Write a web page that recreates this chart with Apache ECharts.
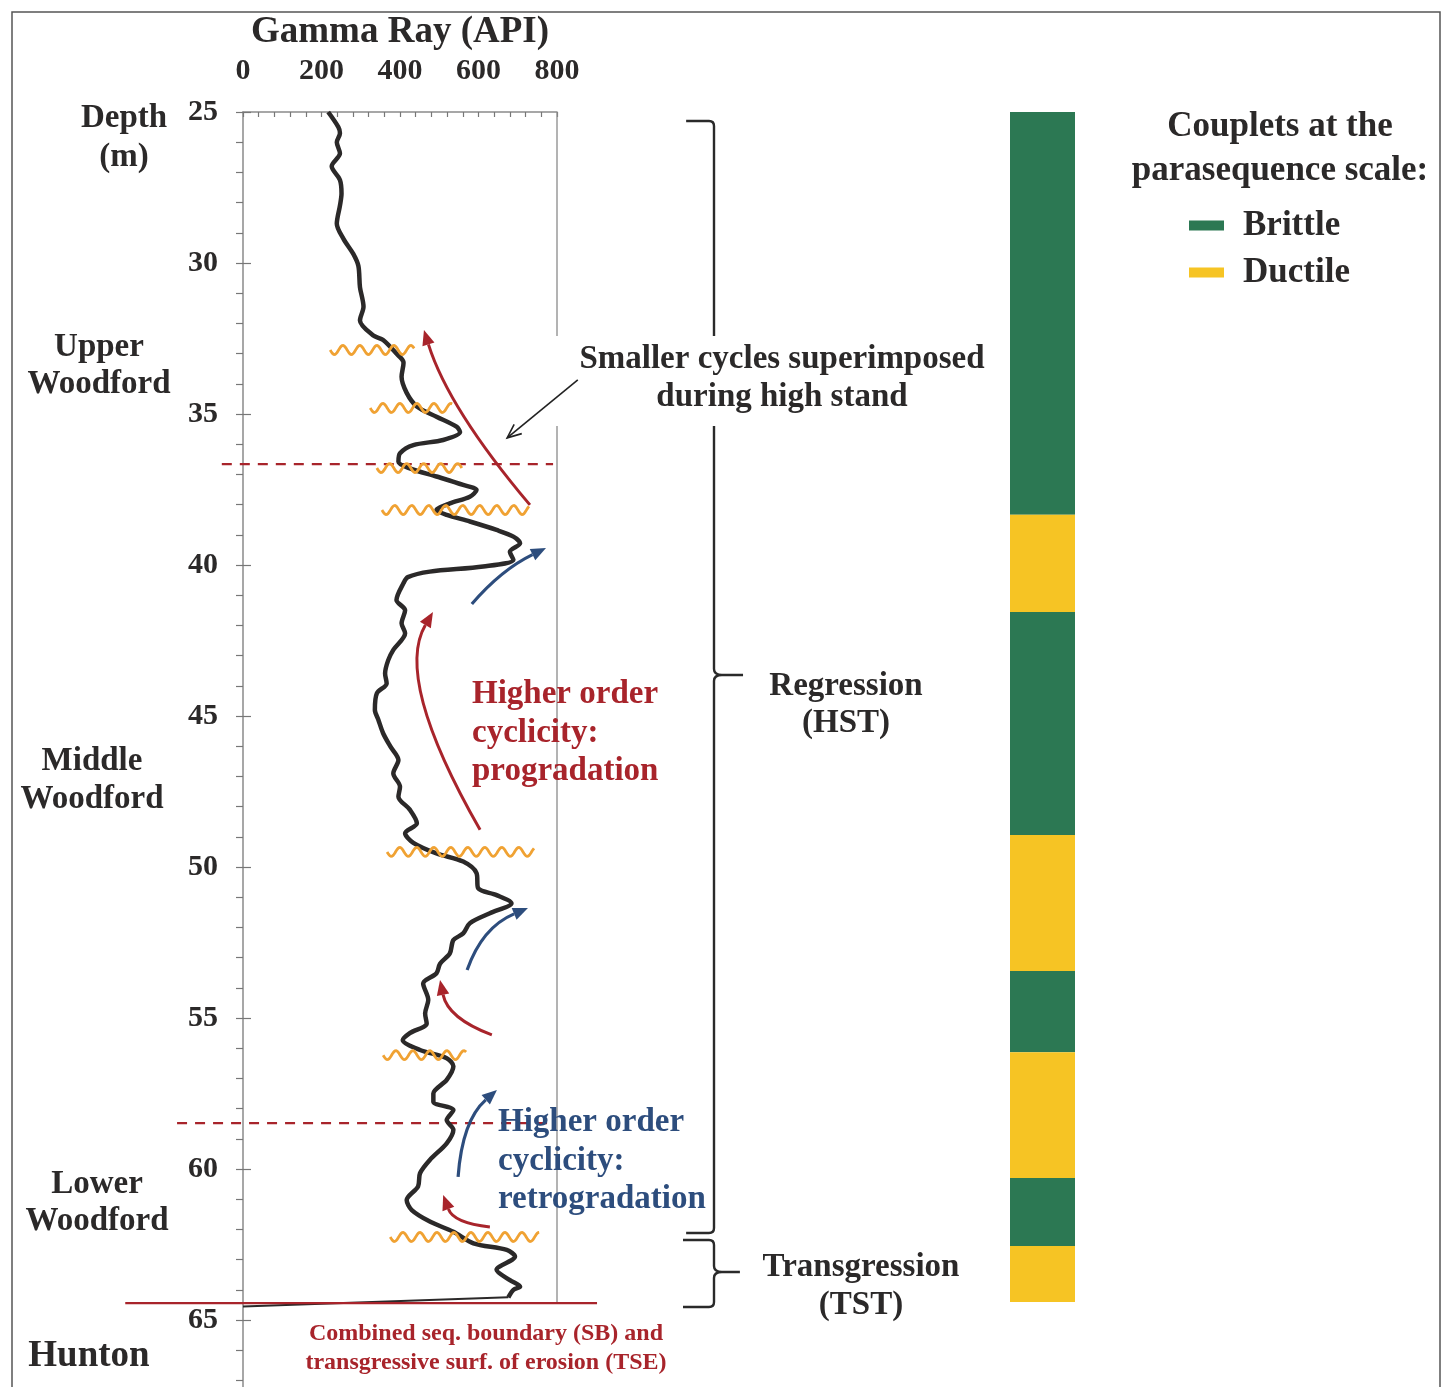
<!DOCTYPE html>
<html>
<head>
<meta charset="utf-8">
<title>Woodford gamma ray log</title>
<script src="https://cdn.jsdelivr.net/npm/echarts@6/dist/echarts.min.js"></script>
<style>
  html, body { margin: 0; padding: 0; background: #fff; }
  #chart { width: 1442px; height: 1387px; }
</style>
</head>
<body>
<div id="chart"></div>
<script>
// ---- Gamma ray log (depth in m, GR in API units) ----
const depthM = [25.0,25.5,25.7,26.0,26.37,26.8,27.25,27.7,28.1,28.7,29.2,29.7,30.1,30.8,31.45,31.9,32.4,32.55,33.0,33.3,33.77,34.3,34.75,35.09,35.42,35.6,35.86,36.03,36.3,36.58,36.8,37.07,37.35,37.52,37.74,37.96,38.18,38.34,38.56,38.84,39.06,39.28,39.56,39.83,40.05,40.22,40.4,40.6,41.16,41.5,41.93,42.26,42.81,43.15,43.59,43.92,44.25,44.8,45.13,45.57,46.0,46.46,46.9,47.34,47.67,48.1,48.55,48.88,49.2,49.55,49.82,50.2,50.7,50.93,51.2,51.53,51.86,52.2,52.42,52.86,53.2,53.52,53.86,54.4,54.85,55.18,55.5,55.73,56.06,56.33,56.6,57.05,57.5,57.77,58.05,58.38,58.7,59.15,59.7,60.14,60.58,61.03,61.36,61.74,62.08,62.46,62.68,62.9,63.34,63.68,63.9,64.0,64.25,64.55];
const gammaApi = [217,243,247,239,247,226,247,251,247,239,256,281,294,298,307,298,332,357,391,409,404,417,443,493,544,553,510,434,400,396,425,493,561,595,578,527,493,519,578,646,689,706,680,689,612,476,420,409,391,413,404,413,383,370,362,366,341,336,345,357,375,396,383,400,396,425,443,413,434,493,561,595,599,646,684,629,578,561,536,527,502,493,459,472,464,468,425,407,451,519,536,519,485,485,536,519,536,519,476,451,446,417,430,476,536,587,672,693,646,680,706,689,676,0];

// ---- Parasequence couplets (top depth, base depth) ----
const brittleIntervals = [[25.0,38.34],[41.56,48.94],[53.44,56.13],[60.3,62.55]];
const ductileIntervals = [[38.34,41.56],[48.94,53.44],[56.13,60.3],[62.55,64.4]];

// ---- Interpretation overlays, in (API, depth) ----
const flooding = [[-54,36.66,790,36.66],[-168,58.48,790,58.48]];   // dashed member tops
const sbTse = [[-300,64.44,902,64.44]];                               // combined SB / TSE
const logEdge = [[800,25,800,64.44]];
const unconformities = [[222,32.88,438],[324,34.8,535],[341,36.79,560],[354,38.18,731],[367,49.5,744],[357,56.23,571],[375,62.25,757]];
// tail, midpoint, head
const progradationArrows = [[731,38.01,560,34.97,461,32.22],[604,48.77,464,44.47,484,41.56],[634,55.56,545,54.83,502,53.74],[629,61.92,553,61.59,510,60.86]];
const retrogradationArrows = [[583,41.29,668,40.26,772,39.44],[571,53.41,629,52.19,726,51.36],[548,60.26,578,58.61,647,57.38]];
const pointer = [[853,33.87,673,35.79]];
// stem, end, tip, top, tip depth, base
const braces = [[1200,1129,1274,25.3,43.64,62.12],[1200,1121,1266,62.35,63.41,64.57]];

const FONT = '"Liberation Serif", "Times New Roman", serif';
const INK = '#2b2929';
const RED = '#a8242b';
const BLUE = '#2d4d7d';
const GREEN = '#2c7853';
const YELLOW = '#f6c424';

const logLine = depthM.map((d, i) => [gammaApi[i], d]);

function segmentRenderer(style) {
  return function (params, api) {
    const a = api.coord([api.value(0), api.value(1)]);
    const b = api.coord([api.value(2), api.value(3)]);
    return { type: 'line', shape: { x1: a[0], y1: a[1], x2: b[0], y2: b[1] }, style: style, silent: true };
  };
}

function waveRenderer(params, api) {
  const a = api.coord([api.value(0), api.value(1)]);
  const b = api.coord([api.value(2), api.value(1)]);
  const pts = [];
  const wl = 17, amp = 4.5;
  for (let x = a[0]; x <= b[0]; x += 1) {
    pts.push([x, a[1] + amp * Math.sin((x - a[0]) / wl * 2 * Math.PI)]);
  }
  return { type: 'polyline', shape: { points: pts }, style: { stroke: '#f0a233', lineWidth: 2.8, fill: null }, silent: true };
}

function arrowRenderer(color, width, head) {
  return function (params, api) {
    const t = api.coord([api.value(0), api.value(1)]);
    const m = api.coord([api.value(2), api.value(3)]);
    const h = api.coord([api.value(4), api.value(5)]);
    const c = [2 * m[0] - (t[0] + h[0]) / 2, 2 * m[1] - (t[1] + h[1]) / 2];
    let dx = h[0] - c[0], dy = h[1] - c[1];
    const L = Math.hypot(dx, dy) || 1; dx /= L; dy /= L;
    const base = [h[0] - dx * head, h[1] - dy * head];
    const px = -dy, py = dx, hw = head * 0.42;
    return {
      type: 'group', silent: true,
      children: [
        { type: 'bezierCurve', shape: { x1: t[0], y1: t[1], cpx1: c[0], cpy1: c[1], x2: base[0], y2: base[1] },
          style: { stroke: color, lineWidth: width, fill: null } },
        { type: 'polygon', shape: { points: [h, [base[0] + px * hw, base[1] + py * hw], [base[0] - px * hw, base[1] - py * hw]] },
          style: { fill: color } }
      ]
    };
  };
}

function pointerRenderer(params, api) {
  const t = api.coord([api.value(0), api.value(1)]);
  const h = api.coord([api.value(2), api.value(3)]);
  let dx = h[0] - t[0], dy = h[1] - t[1];
  const L = Math.hypot(dx, dy) || 1; dx /= L; dy /= L;
  const hl = 14, hw = 6, px = -dy, py = dx;
  const b = [h[0] - dx * hl, h[1] - dy * hl];
  return {
    type: 'group', silent: true,
    children: [
      { type: 'line', shape: { x1: t[0], y1: t[1], x2: h[0], y2: h[1] }, style: { stroke: '#222', lineWidth: 1.6 } },
      { type: 'polyline', shape: { points: [[b[0] + px * hw, b[1] + py * hw], h, [b[0] - px * hw, b[1] - py * hw]] },
        style: { stroke: '#222', lineWidth: 1.6, fill: null } }
    ]
  };
}

function braceRenderer(params, api) {
  const top = api.coord([api.value(0), api.value(3)]);
  const tip = api.coord([api.value(2), api.value(4)]);
  const bot = api.coord([api.value(0), api.value(5)]);
  const endX = api.coord([api.value(1), api.value(3)])[0];
  const x = top[0], r = 5;
  const d = [
    'M', endX, top[1], 'L', x - r, top[1], 'Q', x, top[1], x, top[1] + r,
    'L', x, tip[1] - 6, 'Q', x, tip[1], x + 8, tip[1], 'L', tip[0], tip[1],
    'M', x + 8, tip[1], 'Q', x, tip[1], x, tip[1] + 6,
    'L', x, bot[1] - r, 'Q', x, bot[1], x - r, bot[1], 'L', endX, bot[1]
  ].join(' ');
  return { type: 'path', shape: { pathData: d }, style: { stroke: '#2a2a2a', lineWidth: 2.4, fill: null }, silent: true };
}

function blockRenderer(params, api) {
  const a = api.coord([api.value(0), api.value(1)]);
  const b = api.coord([api.value(2), api.value(3)]);
  return { type: 'rect', shape: { x: a[0], y: a[1], width: b[0] - a[0], height: b[1] - a[1] },
           style: { fill: api.visual('color') } };
}

const toBlocks = iv => iv.map(p => [0, p[0], 1, p[1]]);

function label(text, x, y, opts) {
  return {
    type: 'text', z: 60,
    style: Object.assign({
      text: text, x: x, y: y, align: 'center', verticalAlign: 'middle',
      font: 'bold 33px ' + FONT, fill: INK, lineHeight: 38
    }, opts || {})
  };
}

const chart = echarts.init(document.getElementById('chart'));
chart.setOption({
  backgroundColor: '#ffffff',
  animation: false,
  grid: [
    { left: 243, top: 112, width: 314, height: 1359, outerBoundsMode: 'none', containLabel: false },
    { left: 1010, top: 112, width: 65, height: 1359, outerBoundsMode: 'none', containLabel: false }
  ],
  xAxis: [
    {
      gridIndex: 0, type: 'value', position: 'top', min: 0, max: 800, interval: 200,
      name: 'Gamma Ray (API)', nameLocation: 'middle', nameGap: 56,
      nameTextStyle: { fontFamily: FONT, fontWeight: 'bold', fontSize: 37, color: INK },
      axisLine: { show: true, lineStyle: { color: '#8a8a8a', width: 1.5 } },
      axisTick: { show: true, inside: true, length: 5, lineStyle: { color: '#777', width: 1.2 } },
      minorTick: { show: true, splitNumber: 5, length: 5, lineStyle: { color: '#777', width: 1.2 } },
      axisLabel: { margin: 26, fontFamily: FONT, fontWeight: 'bold', fontSize: 30, color: INK },
      splitLine: { show: false }
    },
    { gridIndex: 1, type: 'value', min: 0, max: 1, show: false }
  ],
  yAxis: [
    {
      gridIndex: 0, type: 'value', inverse: true, min: 25, max: 70, interval: 5,
      axisLine: { show: true, lineStyle: { color: '#8a8a8a', width: 1.5 } },
      axisTick: { show: true, inside: false, length: 7, lineStyle: { color: '#777', width: 1.2 } },
      minorTick: { show: true, splitNumber: 5, length: 7, lineStyle: { color: '#777', width: 1.2 } },
      axisLabel: { margin: 25, fontFamily: FONT, fontWeight: 'bold', fontSize: 30, color: INK },
      splitLine: { show: false }
    },
    {
      // inner half of the major depth ticks
      gridIndex: 0, type: 'value', inverse: true, min: 25, max: 70, interval: 5,
      position: 'right', offset: -314,
      axisLine: { show: false },
      axisTick: { show: true, inside: false, length: 8, lineStyle: { color: '#777', width: 1.2 } },
      axisLabel: { show: false }, splitLine: { show: false }
    },
    { gridIndex: 1, type: 'value', inverse: true, min: 25, max: 70, show: false }
  ],
  legend: {
    data: ['Brittle', 'Ductile'],
    orient: 'vertical', left: 1184, top: 203, itemGap: 12,
    icon: 'rect', itemWidth: 35, itemHeight: 10,
    textStyle: { fontFamily: FONT, fontWeight: 'bold', fontSize: 35, color: INK, padding: [0, 0, 0, 14] },
    selectedMode: false
  },
  series: [
    {
      type: 'custom', name: 'edge', xAxisIndex: 0, yAxisIndex: 0, z: 1,
      renderItem: segmentRenderer({ stroke: '#8a8a8a', lineWidth: 1.3 }), data: logEdge
    },
    {
      type: 'custom', name: 'flooding', xAxisIndex: 0, yAxisIndex: 0, z: 2,
      renderItem: segmentRenderer({ stroke: RED, lineWidth: 2.2, lineDash: [10, 8] }), data: flooding
    },
    {
      type: 'line', name: 'GR', xAxisIndex: 0, yAxisIndex: 0, z: 3,
      data: logLine.slice(0, logLine.length - 1), showSymbol: false, symbol: 'none', smooth: 0.3,
      lineStyle: { color: INK, width: 4.5 }, silent: true
    },
    {
      type: 'line', name: 'GR base', xAxisIndex: 0, yAxisIndex: 0, z: 3,
      data: logLine.slice(logLine.length - 2), showSymbol: false, symbol: 'none',
      lineStyle: { color: INK, width: 2 }, silent: true
    },
    {
      type: 'custom', name: 'SB/TSE', xAxisIndex: 0, yAxisIndex: 0, z: 4,
      renderItem: segmentRenderer({ stroke: RED, lineWidth: 2.4 }), data: sbTse
    },
    {
      type: 'custom', name: 'unconformity', xAxisIndex: 0, yAxisIndex: 0, z: 5,
      renderItem: waveRenderer, data: unconformities
    },
    {
      type: 'custom', name: 'progradation', xAxisIndex: 0, yAxisIndex: 0, z: 6,
      renderItem: arrowRenderer(RED, 3, 15), data: progradationArrows
    },
    {
      type: 'custom', name: 'retrogradation', xAxisIndex: 0, yAxisIndex: 0, z: 6,
      renderItem: arrowRenderer(BLUE, 3.2, 15), data: retrogradationArrows
    },
    {
      type: 'custom', name: 'pointer', xAxisIndex: 0, yAxisIndex: 0, z: 70,
      renderItem: pointerRenderer, data: pointer
    },
    {
      type: 'custom', name: 'systems tracts', xAxisIndex: 0, yAxisIndex: 0, z: 6,
      renderItem: braceRenderer, data: braces
    },
    {
      type: 'custom', name: 'Brittle', xAxisIndex: 1, yAxisIndex: 2,
      itemStyle: { color: GREEN }, renderItem: blockRenderer, data: toBlocks(brittleIntervals)
    },
    {
      type: 'custom', name: 'Ductile', xAxisIndex: 1, yAxisIndex: 2,
      itemStyle: { color: YELLOW }, renderItem: blockRenderer, data: toBlocks(ductileIntervals)
    }
  ],
  graphic: [
    { type: 'rect', z: 0, silent: true, shape: { x: 12, y: 12, width: 1428, height: 1400 },
      style: { stroke: '#555', lineWidth: 1.5, fill: null } },
    { type: 'rect', z: 55, silent: true, shape: { x: 552, y: 336, width: 442, height: 90 },
      style: { fill: '#ffffff' } },
    label('Depth\n(m)', 124, 138, { lineHeight: 39 }),
    label('Upper\nWoodford', 99, 366, { lineHeight: 37 }),
    label('Middle\nWoodford', 92, 780, { lineHeight: 38 }),
    label('Lower\nWoodford', 97, 1203, { lineHeight: 37 }),
    label('Hunton', 89, 1356, { font: 'bold 37px ' + FONT }),
    label('Smaller cycles superimposed\nduring high stand', 782, 378, { lineHeight: 38 }),
    label('Higher order\ncyclicity:\nprogradation', 472, 733, { align: 'left', fill: RED, lineHeight: 38.5 }),
    label('Regression\n(HST)', 846, 705, { lineHeight: 37 }),
    label('Higher order\ncyclicity:\nretrogradation', 498, 1161, { align: 'left', fill: BLUE, lineHeight: 38.5 }),
    label('Transgression\n(TST)', 861, 1286, { lineHeight: 38 }),
    label('Combined seq. boundary (SB) and\ntransgressive surf. of erosion (TSE)', 486, 1348,
          { font: 'bold 24px ' + FONT, fill: RED, lineHeight: 29 }),
    label('Couplets at the\nparasequence scale:', 1280, 149, { font: 'bold 35px ' + FONT, lineHeight: 44 })
  ]
});
</script>
</body>
</html>
